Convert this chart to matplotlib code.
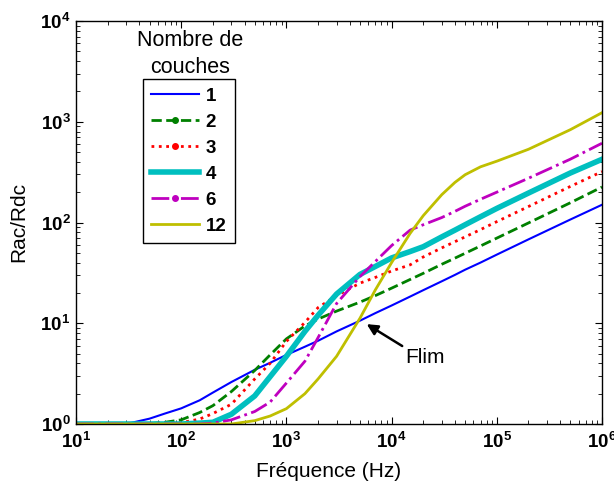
import matplotlib
matplotlib.use("Agg")
import matplotlib.pyplot as plt
from matplotlib.lines import Line2D
from matplotlib.ticker import FuncFormatter, LogLocator
import numpy as np

plt.rcParams['font.family'] = ['Liberation Sans', 'DejaVu Sans']
plt.rcParams['mathtext.fontset'] = 'custom'
plt.rcParams['mathtext.rm'] = 'Liberation Sans'
plt.rcParams['mathtext.bf'] = 'Liberation Sans:bold'

# frequency grid (Hz) and Rac/Rdc
freq = [10, 30, 50, 70, 100, 150, 200, 300, 500, 700, 1e3, 1.5e3, 2e3, 3e3, 5e3,
        7e3, 1e4, 1.5e4, 2e4, 3e4, 4e4, 5e4, 7e4, 1e5, 2e5, 5e5, 1e6]
rac_1 = [1.0, 1.0, 1.13, 1.27, 1.43, 1.72, 2.05, 2.61, 3.45, 4.05, 4.85, 5.85, 6.7,
         8.3, 10.6, 12.6, 15.0, 18.4, 21.3, 26.1, 30.2, 34, 40, 48, 68, 107, 150]
rac_2 = [1.0, 1.0, 1.01, 1.04, 1.1, 1.3, 1.52, 2.1, 3.4, 4.85, 7.0, 9.4, 11.0, 13.2,
         16.2, 18.8, 22.3, 27.2, 31.3, 38.5, 44.3, 49.5, 58.5, 70, 99, 157, 225]
rac_3 = [1.0, 1.0, 1.0, 1.005, 1.03, 1.12, 1.27, 1.57, 2.8, 4.0, 6.6, 10.2, 14.3,
         18.8, 25, 28.5, 33, 38, 45.5, 56, 64.5, 72, 85, 102, 144, 228, 320]
rac_4 = [1.0, 1.0, 1.0, 1.0, 1.0, 1.02, 1.04, 1.25, 1.9, 2.95, 4.7, 8.3, 12.0, 19.5,
         30.5, 36.6, 44.5, 51.5, 57.5, 72, 84, 95, 114, 138, 196, 310, 424]
rac_6 = [1.0, 1.0, 1.0, 1.0, 1.0, 1.0, 1.02, 1.1, 1.33, 1.65, 2.55, 4.2, 7.2, 15.7,
         29, 41, 59, 84, 95, 112, 129, 145, 170, 200, 275, 425, 612]
rac_12 = [1.0, 1.0, 1.0, 1.0, 1.0, 1.0, 1.0, 1.0, 1.08, 1.2, 1.42, 2.0, 2.8, 4.7,
          11.2, 21.4, 40, 78, 117, 189, 250, 298, 357, 406, 533, 834, 1230]

labels = ['1', '2', '3', '4', '6', '12']
series = [rac_1, rac_2, rac_3, rac_4, rac_6, rac_12]
colors = ['#0000ff', '#008000', '#ff0000', '#00bfbf', '#bf00bf', '#bfbf00']
styles = ['-', '--', ':', '-', '-.', '-']
widths = [1.5, 2.0, 2.0, 4.0, 2.0, 2.0]
markers = ['', '.', '.', '', '.', '']

fig = plt.figure(figsize=(6.14, 4.88), dpi=100)
ax = fig.add_axes([76 / 614, 1 - 424 / 488, 526 / 614, 403 / 488])

for y, c, ls, lw in zip(series, colors, styles, widths):
    ax.plot(freq, y, color=c, linestyle=ls, linewidth=lw)

ax.set_xscale('log')
ax.set_yscale('log')
ax.set_xlim(10, 1e6)
ax.set_ylim(1, 1e4)

fmt = FuncFormatter(lambda v, p: r'$\mathbf{10^{%d}}$' % int(round(np.log10(v))))
ax.xaxis.set_major_formatter(fmt)
ax.yaxis.set_major_formatter(fmt)
ax.xaxis.set_major_locator(LogLocator(base=10, numticks=10))
ax.yaxis.set_major_locator(LogLocator(base=10, numticks=10))
ax.tick_params(which='both', direction='in', top=True, right=True, labelsize=13.5)
ax.tick_params(which='major', length=5, width=0.8)
ax.tick_params(which='minor', length=3, width=0.6)
ax.tick_params(axis='x', pad=6)
ax.tick_params(axis='y', pad=4)
for s in ax.spines.values():
    s.set_linewidth(1.0)

ax.set_xlabel('Fréquence (Hz)', fontsize=15)
ax.set_ylabel('Rac/Rdc', fontsize=15)
ax.xaxis.set_label_coords(0.48, -0.095)
ax.yaxis.set_label_coords(-0.09, 0.5)

ax.annotate('Flim', xy=(5800, 9.8), xytext=(13400, 4.6), fontsize=15,
            ha='left', va='center',
            arrowprops=dict(arrowstyle='-|>', color='black', lw=1.8,
                            mutation_scale=16, shrinkA=0, shrinkB=0,
                            relpos=(0.0, 1.0)))

handles = [Line2D([], [], color=c, linestyle=ls, linewidth=lw, marker=m, markersize=8)
           for c, ls, lw, m in zip(colors, styles, widths, markers)]
leg = fig.legend(handles, labels, loc='upper left',
                 bbox_to_anchor=(142.7 / 614, 1 - 79 / 488), borderaxespad=0,
                 prop={'weight': 'bold', 'size': 13.5}, numpoints=1,
                 handlelength=2.56, handletextpad=0.35, labelspacing=0.475,
                 borderpad=0.45, fancybox=False, framealpha=1, edgecolor='black')
leg.get_frame().set_linewidth(1.0)

fig.text(190 / 614, 1 - 46 / 488, 'Nombre de', ha='center', va='baseline', fontsize=15.5)
fig.text(190 / 614, 1 - 73 / 488, 'couches', ha='center', va='baseline', fontsize=15.5)

fig.savefig('out.png', dpi=100)
